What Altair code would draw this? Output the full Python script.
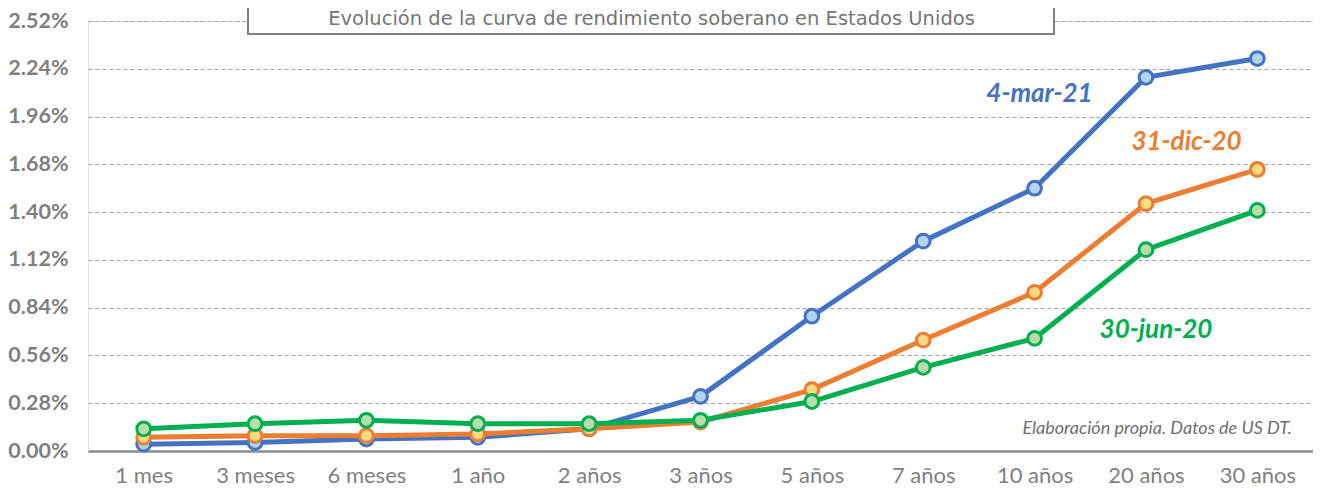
import altair as alt
import pandas as pd

categories = ["1 mes", "3 meses", "6 meses", "1 año", "2 años", "3 años",
              "5 años", "7 años", "10 años", "20 años", "30 años"]
series_names = ["4-mar-21", "31-dic-20", "30-jun-20"]
mar21 = [0.04, 0.05, 0.07, 0.08, 0.13, 0.32, 0.79, 1.23, 1.54, 2.19, 2.30]
dic20 = [0.08, 0.09, 0.09, 0.10, 0.13, 0.17, 0.36, 0.65, 0.93, 1.45, 1.65]
jun20 = [0.13, 0.16, 0.18, 0.16, 0.16, 0.18, 0.29, 0.49, 0.66, 1.18, 1.41]
y_ticks = [0.00, 0.28, 0.56, 0.84, 1.12, 1.40, 1.68, 1.96, 2.24, 2.52]

title_text = "Evolución de la curva de rendimiento soberano en Estados Unidos"
source_text = "Elaboración propia. Datos de US DT."

line_colors = ["#4472C4", "#ED7D31", "#00B050"]
fill_colors = ["#B4D3F0", "#FFDA80", "#BADBAA"]

rows = []
for name, vals in zip(series_names, [mar21, dic20, jun20]):
    for c, v in zip(categories, vals):
        rows.append({"plazo": c, "serie": name, "valor": v})
df = pd.DataFrame(rows)

FONT = "Lato"
GRAY = "#7f7f7f"

x_enc = alt.X("plazo:N", sort=categories, title=None,
              axis=alt.Axis(labelAngle=0, ticks=False, domain=True,
                            domainColor="#8c8c8c", domainWidth=2.5,
                            labelFontSize=22, labelColor=GRAY, labelFont=FONT,
                            labelPadding=14, grid=False))
y_enc = alt.Y("valor:Q", title=None,
              scale=alt.Scale(domain=[0, 2.52], nice=False, zero=True),
              axis=alt.Axis(values=y_ticks, domain=False, ticks=False,
                            labelExpr="format(datum.value, '.2f') + '%'",
                            labelFontSize=21.5, labelFontWeight="bold",
                            labelColor=GRAY, labelFont=FONT, labelPadding=20,
                            grid=True, gridDash=[4, 3], gridColor="#a0a0a0",
                            gridWidth=1))

layers = []
for name, lc, fc in zip(series_names, line_colors, fill_colors):
    base = alt.Chart(df).transform_filter(alt.datum.serie == name)
    line = base.mark_line(color=lc, strokeWidth=5, interpolate="linear").encode(
        x=x_enc, y=y_enc)
    pts = base.mark_point(filled=True, fill=fc, stroke=lc, strokeWidth=3,
                          size=190, opacity=1, fillOpacity=1).encode(
        x=x_enc, y=y_enc)
    layers += [line, pts]

# title box
box = alt.Chart(pd.DataFrame({"t": [title_text]})).mark_rect(
    fill="white", stroke="#808080", strokeWidth=2).encode(
    x=alt.value(160), x2=alt.value(966), y=alt.value(-30), y2=alt.value(13))
title = alt.Chart(pd.DataFrame({"t": [title_text]})).mark_text(
    font="DejaVu Sans", fontSize=19.5, color="#767676", baseline="alphabetic",
    align="center").encode(
    x=alt.value(563.5), y=alt.value(4), text="t:N")

label_pos = [(951.5, 81), (1098.5, 129), (1068, 317)]
labels = []
for name, lc, (px, py) in zip(series_names, line_colors, label_pos):
    labels.append(alt.Chart(pd.DataFrame({"t": [name]})).mark_text(
        font=FONT, fontSize=26, fontWeight="bold", fontStyle="italic",
        color=lc, align="center", baseline="alphabetic").encode(
        x=alt.value(px), y=alt.value(py), text="t:N"))

source = alt.Chart(pd.DataFrame({"t": [source_text]})).mark_text(
    font=FONT, fontSize=18, fontStyle="italic", color="#6e6e6e",
    align="right", baseline="alphabetic").encode(
    x=alt.value(1204), y=alt.value(413), text="t:N")

chart = alt.layer(*layers, box, title, *labels, source).properties(
    width=1225, height=430,
    autosize=alt.AutoSizeParams(type="none"),
    padding={"left": 80, "top": 13, "right": 0, "bottom": 36},
).configure_view(stroke=None).configure(background="white")

chart.save("out.html", embed_options={"renderer": "svg", "actions": False})
